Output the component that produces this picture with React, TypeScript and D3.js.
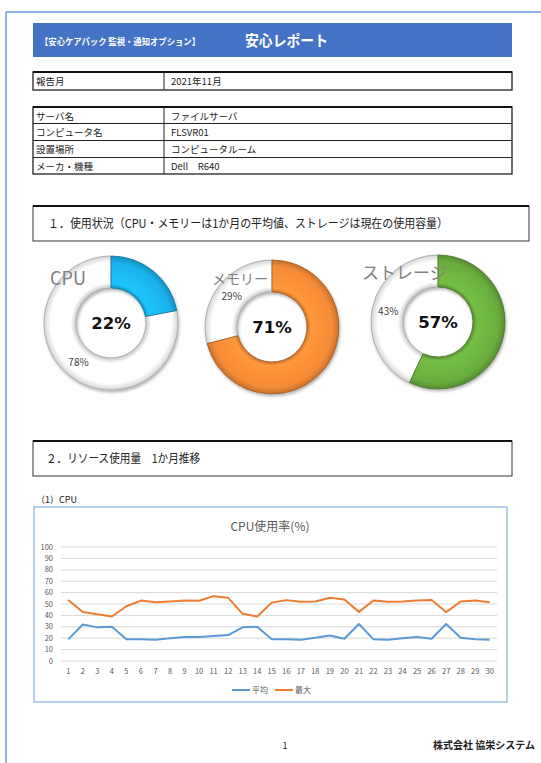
import React from "react";
import * as d3 from "d3";

const headerSub = "【安心ケアパック 監視・通知オプション】";
const headerTitle = "安心レポート";
const reportLabel = "報告月";
const reportValue = "2021年11月";
const infoLabels = ["サーバ名", "コンピュータ名", "設置場所", "メーカ・機種"];
const infoValues = ["ファイルサーバ", "FLSVR01", "コンピュータルーム", "Dell　R640"];
const section1 = "１．使用状況（CPU・メモリーは1か月の平均値、ストレージは現在の使用容量）";
const section2 = "２．リソース使用量　1か月推移";
const subHead = "（1）CPU";
const donutNames = ["CPU", "メモリー", "ストレージ"];
const donutUsed = [22, 71, 57];
const donutColors = ["#1ab2ee", "#f68b36", "#6aae3e"];
const chartTitle = "CPU使用率(%)";
const days = [1,2,3,4,5,6,7,8,9,10,11,12,13,14,15,16,17,18,19,20,21,22,23,24,25,26,27,28,29,30];
const avgValues = [19,32,29.5,30,19,19,18.7,20,21,21,22,22.7,29.5,30,19,19,18.7,20.4,22.4,19.5,32.4,19,18.7,20,21,19.5,32.4,20.4,19,18.7];
const maxValues = [53.6,42.9,41,39,48,53,51.6,52.2,53,52.8,56.9,55.4,41.4,39,51.2,53.4,51.9,52.2,55.4,53.9,43.1,53,51.9,52.2,53,53.6,42.9,52.2,53,51.6];
const yTicks = [0,10,20,30,40,50,60,70,80,90,100];
const legendNames = ["平均", "最大"];
const footerPage = "1";
const footerCompany = "株式会社 協栄システム";

const JP = "'Noto Sans CJK JP', 'Noto Sans', sans-serif";

const donutLayout = [
  { cx: 111, cy: 323, nameDx: -61, nameDy: -38, nameSize: 18 },
  { cx: 272, cy: 327, nameDx: -60, nameDy: -43, nameSize: 14 },
  { cx: 438, cy: 322, nameDx: -76, nameDy: -43, nameSize: 17 },
];

export default function App() {
  const W = 541, H = 763;
  const x = d3.scalePoint<number>().domain(days).range([61, 497]).padding(0.5);
  const y = d3.scaleLinear().domain([0, 100]).range([661, 547]);
  const line = d3.line<number>().x((_, i) => x(days[i]) as number).y((d) => y(d));

  const rIn = 35, rOut = 67;
  const arcGen = d3.arc<d3.PieArcDatum<number>>().innerRadius(rIn).outerRadius(rOut);
  const pie = d3.pie<number>().sort(null).value((d) => d);
  const labelArc = d3.arc<d3.PieArcDatum<number>>().innerRadius(51).outerRadius(51);

  const infoRowsY = [107, 123.5, 140.5, 157.5, 174];

  return (
    <svg width={W} height={H} style={{ position: "absolute", left: 0, top: 0, background: "#fff" }} fontFamily={JP}>
      <defs>
        <filter id="shadow" x="-20%" y="-20%" width="140%" height="140%">
          <feDropShadow dx="1" dy="2" stdDeviation="1.5" floodColor="#000" floodOpacity="0.3" />
        </filter>
        {donutColors.map((c, i) => {
          const base = d3.color(c)!;
          return (
            <radialGradient key={i} id={`g${i}`} cx={0} cy={0} r={rOut} gradientUnits="userSpaceOnUse">
              <stop offset={rIn / rOut} stopColor={base.darker(0.6).toString()} />
              <stop offset={0.58} stopColor={base.brighter(0.25).toString()} />
              <stop offset={0.9} stopColor={c} />
              <stop offset={1} stopColor={base.darker(0.6).toString()} />
            </radialGradient>
          );
        })}
        <radialGradient id="wg" cx={0} cy={0} r={rOut} gradientUnits="userSpaceOnUse">
          <stop offset={rIn / rOut} stopColor="#c8c8c8" />
          <stop offset={0.6} stopColor="#ffffff" />
          <stop offset={0.9} stopColor="#ffffff" />
          <stop offset={1} stopColor="#d4d4d4" />
        </radialGradient>
      </defs>

      {/* page frame */}
      <line x1={6} y1={12} x2={541} y2={12} stroke="#8fb6e0" strokeWidth={2} />
      <line x1={6} y1={12} x2={6} y2={763} stroke="#8fb6e0" strokeWidth={2} />

      {/* header */}
      <rect x={33} y={23} width={479} height={34} fill="#4472c4" />
      <text x={40} y={45} fill="#fff" fontSize={9} fontWeight="bold" textLength={160} lengthAdjust="spacingAndGlyphs">{headerSub}</text>
      <text x={245} y={46} fill="#fff" fontSize={15} fontWeight="bold" textLength={83} lengthAdjust="spacingAndGlyphs">{headerTitle}</text>

      {/* report month table */}
      <rect x={33} y={72} width={479} height={18} fill="none" stroke="#222" strokeWidth={1.3} />
      <line x1={33} y1={72} x2={512} y2={72} stroke="#111" strokeWidth={2.2} />
      <line x1={164} y1={72} x2={164} y2={90} stroke="#222" strokeWidth={1} />
      <text x={36} y={85} fontSize={9.5} fill="#222">{reportLabel}</text>
      <text x={171} y={85} fontSize={9.5} fill="#222">{reportValue}</text>

      {/* info table */}
      <rect x={33} y={107} width={479} height={67} fill="none" stroke="#222" strokeWidth={1.3} />
      <line x1={33} y1={107} x2={512} y2={107} stroke="#111" strokeWidth={2.2} />
      {infoRowsY.slice(1, -1).map((ry, i) => (
        <line key={i} x1={33} y1={ry} x2={512} y2={ry} stroke="#222" strokeWidth={1} />
      ))}
      <line x1={164} y1={107} x2={164} y2={174} stroke="#222" strokeWidth={1} />
      {infoLabels.map((t, i) => (
        <g key={i}>
          <text x={36} y={infoRowsY[i] + 12.5} fontSize={9.5} fill="#222">{t}</text>
          <text x={171} y={infoRowsY[i] + 12.5} fontSize={9.5} fill="#222">{infoValues[i]}</text>
        </g>
      ))}

      {/* section 1 */}
      <rect x={33} y={206} width={496} height={35} fill="none" stroke="#333" strokeWidth={1} />
      <line x1={33} y1={206} x2={529} y2={206} stroke="#111" strokeWidth={2.2} />
      <text x={48} y={228} fontSize={12} fill="#222" textLength={400} lengthAdjust="spacingAndGlyphs">{section1}</text>

      {/* donuts */}
      {donutUsed.map((u, i) => {
        const l = donutLayout[i];
        const arcs = pie([u, 100 - u]);
        return (
          <g key={i} transform={`translate(${l.cx},${l.cy})`}>
            <g filter="url(#shadow)">
              <path d={arcGen(arcs[1]) as string} fill="url(#wg)" stroke="#a0a0a0" strokeWidth={0.8} />
              <path d={arcGen(arcs[0]) as string} fill={`url(#g${i})`} stroke={d3.color(donutColors[i])!.darker(1.2).toString()} strokeWidth={0.8} />
            </g>
            <text x={l.nameDx} y={l.nameDy} fontSize={l.nameSize} fill="#7f7f7f">{donutNames[i]}</text>
            <text x={0} y={6} fontSize={16.5} fontWeight="bold" fill="#111" textAnchor="middle" fontFamily="'DejaVu Sans', sans-serif">{u}%</text>
            <text x={labelArc.centroid(arcs[1])[0]} y={labelArc.centroid(arcs[1])[1] + 4} fontSize={10} fill="#404040" textAnchor="middle">{100 - u}%</text>
          </g>
        );
      })}

      {/* section 2 */}
      <rect x={33} y={441} width={479} height={35} fill="none" stroke="#333" strokeWidth={1} />
      <line x1={33} y1={441} x2={512} y2={441} stroke="#111" strokeWidth={2.2} />
      <text x={46} y={463} fontSize={12} fill="#222" textLength={154} lengthAdjust="spacingAndGlyphs">{section2}</text>
      <text x={36} y={503} fontSize={9} fill="#222">{subHead}</text>

      {/* chart */}
      <rect x={34} y={507} width={473} height={195} fill="#fff" stroke="#8fb6e0" strokeWidth={1.3} />
      <text x={270} y={531} fontSize={12} fill="#595959" textAnchor="middle">{chartTitle}</text>
      {yTicks.map((t) => (
        <g key={t}>
          <line x1={61} x2={497} y1={y(t)} y2={y(t)} stroke="#d9d9d9" strokeWidth={1} />
          <text x={53} y={y(t) + 2.5} fontSize={7.5} fill="#595959" textAnchor="end">{t}</text>
        </g>
      ))}
      {days.map((d) => (
        <text key={d} x={x(d)} y={674} fontSize={7.5} fill="#595959" textAnchor="middle">{d}</text>
      ))}
      <path d={line(avgValues) as string} fill="none" stroke="#5b9bd5" strokeWidth={2} strokeLinejoin="round" />
      <path d={line(maxValues) as string} fill="none" stroke="#ed7d31" strokeWidth={2} strokeLinejoin="round" />

      {/* legend */}
      <line x1={232} x2={250} y1={690} y2={690} stroke="#5b9bd5" strokeWidth={2} />
      <text x={252} y={693} fontSize={8} fill="#595959">{legendNames[0]}</text>
      <line x1={275} x2={293} y1={690} y2={690} stroke="#ed7d31" strokeWidth={2} />
      <text x={295} y={693} fontSize={8} fill="#595959">{legendNames[1]}</text>

      {/* footer */}
      <text x={285} y={749} fontSize={9} fill="#222" textAnchor="middle">{footerPage}</text>
      <text x={535} y={749} fontSize={10} fontWeight="bold" fill="#222" textAnchor="end">{footerCompany}</text>
    </svg>
  );
}
